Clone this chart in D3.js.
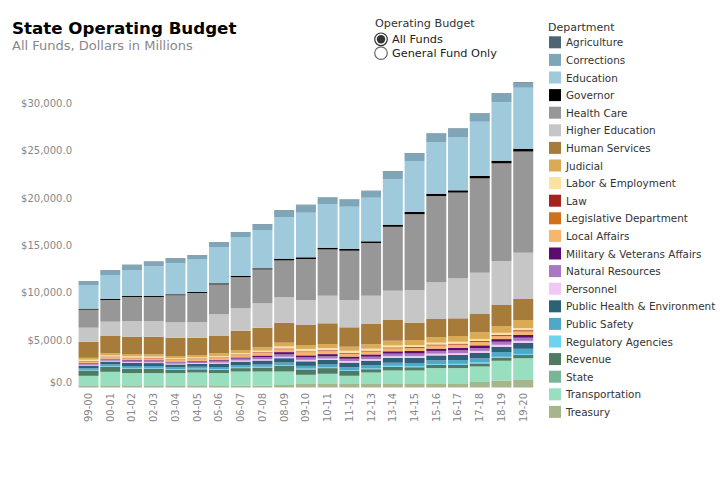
<!DOCTYPE html>
<html>
<head>
<meta charset="utf-8">
<script src="https://cdn.jsdelivr.net/npm/d3@7"></script>
<style>
  html, body { margin: 0; padding: 0; background: #fff; }
  svg { display: block; font-family: "DejaVu Sans", sans-serif; }
</style>
</head>
<body>
<svg id="chart" width="720" height="480"></svg>
<script>
// ---------------- DATA (millions of dollars) ----------------
const years = ["99-00","00-01","01-02","02-03","03-04","04-05","05-06","06-07","07-08","08-09","09-10",
               "10-11","11-12","12-13","13-14","14-15","15-16","16-17","17-18","18-19","19-20"];

const departments = ["Agriculture","Corrections","Education","Governor","Health Care","Higher Education",
  "Human Services","Judicial","Labor & Employment","Law","Legislative Department","Local Affairs",
  "Military & Veterans Affairs","Natural Resources","Personnel","Public Health & Environment",
  "Public Safety","Regulatory Agencies","Revenue","State","Transportation","Treasury"];

const agriculture      = [40,40,40,40,40,40,40,45,45,45,45,45,45,45,50,50,50,50,55,60,60];
const corrections      = [382,488,519,488,519,435,488,483,588,694,799,662,736,694,826,794,900,868,832,890,542];
const education        = [2502,2533,2745,3135,3272,3431,3832,4117,4043,4402,4708,4613,4465,4602,4792,5384,5426,5626,5732,6165,6439];
const governor         = [100,100,100,100,100,100,120,120,120,180,180,180,180,180,220,230,240,240,250,280,300];
const healthCare       = [1906,2296,2539,2539,2856,3067,3152,3290,3575,3895,4327,4887,5204,5562,6747,8004,9113,9049,9958,10308,10678];
const higherEducation  = [1478,1510,1657,1657,1626,1657,2291,2365,2576,2681,2639,2913,2882,2987,3093,3452,3874,4222,4360,4645,4887];
const humanServices    = [1700,1826,1826,1858,1932,1826,1826,2037,2069,2111,2111,2185,2048,2143,2185,1826,1932,1868,1932,2217,2217];
const judicial         = [200,220,240,240,230,240,290,320,350,390,410,420,430,460,500,540,560,600,700,720,850];
const laborEmployment  = [120,120,140,130,120,120,140,150,170,220,260,240,220,210,210,200,200,210,220,220,230];
const law              = [40,45,50,50,50,55,55,60,60,65,65,70,70,75,75,80,80,85,85,90,95];
const legislative      = [30,30,30,32,32,33,34,35,38,38,38,38,40,42,42,44,46,48,50,52,55];
const localAffairs     = [150,160,170,170,160,170,200,220,250,280,320,300,280,280,290,300,310,320,320,300,340];
const military         = [50,55,60,60,70,70,80,120,180,230,220,220,230,240,250,260,240,250,300,280,300];
const naturalResources = [150,160,170,160,150,155,180,200,220,260,250,240,240,250,260,280,290,300,290,320,330];
const personnel        = [75,80,90,85,80,85,110,120,130,150,160,160,170,170,175,180,185,190,200,210,220];
const publicHealth     = [285,300,320,315,300,310,360,380,410,450,480,480,490,500,520,540,520,540,580,560,620];
const publicSafety     = [180,190,200,195,190,200,220,230,250,280,290,290,300,310,330,350,380,400,430,500,540];
const regulatory       = [60,65,70,70,70,70,75,80,85,90,90,90,90,95,95,100,100,105,110,115,120];
const revenue          = [561,529,475,477,352,338,343,351,408,582,558,593,507,338,392,339,331,332,316,298,332];
const stateDept        = [20,20,22,22,22,22,24,25,25,26,26,26,26,28,28,28,30,30,30,30,32];
const transportation   = [1056,1478,1341,1341,1341,1404,1341,1457,1457,1404,950,982,844,1193,1404,1404,1657,1657,1615,2058,2270];
const treasury         = [158,158,158,158,158,158,158,211,211,264,369,443,369,369,369,369,369,369,580,739,792];

const yTicks = [0, 5000, 10000, 15000, 20000, 25000, 30000];

const colors = ["#4f6572","#7fa5b8","#9ecadc","#000000","#979797","#c6c6c6",
  "#a77c3b","#d9ab55","#fbe2a0","#a3241d","#d0701a","#f8b56c",
  "#5c0b6e","#a878c1","#f0c9f4","#2c6177","#4fa7c9","#6dd3ef",
  "#4e7b63","#79b697","#97dfbe","#a6b68c"];

const seriesValues = [agriculture, corrections, education, governor, healthCare, higherEducation,
  humanServices, judicial, laborEmployment, law, legislative, localAffairs, military,
  naturalResources, personnel, publicHealth, publicSafety, regulatory, revenue, stateDept,
  transportation, treasury];

// ---------------- BUILD TABLE ----------------
const table = years.map((y, i) => {
  const row = { year: y };
  departments.forEach((d, k) => { row[d] = seriesValues[k][i]; });
  return row;
});
const stackKeys = departments.slice().reverse(); // Treasury at bottom, Agriculture on top
const stacked = d3.stack().keys(stackKeys)(table);
const color = d3.scaleOrdinal().domain(departments).range(colors);

// ---------------- SCALES ----------------
const svg = d3.select("#chart");
const x = d3.scaleBand().domain(years).range([77.7, 534.1]).paddingInner(0.08).paddingOuter(0.04);
const y = d3.scaleLinear().domain([0, 30000]).range([387.5, 103.3]);

// ---------------- BARS ----------------
svg.append("g").selectAll("g").data(stacked).join("g")
  .attr("fill", d => color(d.key))
  .selectAll("rect").data(d => d).join("rect")
  .attr("x", d => x(d.data.year))
  .attr("width", x.bandwidth())
  .attr("y", d => y(d[1]))
  .attr("height", d => y(d[0]) - y(d[1]));

// ---------------- Y AXIS ----------------
const fmt = d3.format("$,.1f");
const yAxis = svg.append("g").attr("transform", "translate(72,0)")
  .call(d3.axisLeft(y).tickValues(yTicks).tickFormat(fmt).tickSize(0).tickPadding(0));
yAxis.select(".domain").remove();
yAxis.selectAll("text")
  .attr("fill", "#888").style("font-size", "10px").style("font-family", "DejaVu Sans, sans-serif")
  .attr("dy", d => d === 0 ? "-0.25em" : "0.32em");

// ---------------- X AXIS ----------------
const xAxis = svg.append("g").attr("transform", "translate(0,393)")
  .call(d3.axisBottom(x).tickSize(0).tickPadding(0));
xAxis.select(".domain").remove();
xAxis.selectAll("text")
  .attr("fill", "#888").style("font-size", "10px").style("font-family", "DejaVu Sans, sans-serif")
  .attr("text-anchor", "end")
  .attr("transform", "rotate(-90)")
  .attr("x", 0).attr("y", 0).attr("dy", "0.34em");

// ---------------- TITLES ----------------
svg.append("text").attr("x", 12).attr("y", 34)
  .style("font-size", "16.7px").style("font-weight", "bold").attr("fill", "#000")
  .text("State Operating Budget");
svg.append("text").attr("x", 12).attr("y", 50)
  .style("font-size", "13px").attr("fill", "#888")
  .text("All Funds, Dollars in Millions");

// ---------------- RADIO CONTROL ----------------
const radio = svg.append("g");
radio.append("text").attr("x", 375).attr("y", 26.5).style("font-size", "11.2px").attr("fill", "#333")
  .text("Operating Budget");
const radioOptions = ["All Funds", "General Fund Only"];
radioOptions.forEach((label, i) => {
  const cy = 39.3 + i * 13.8;
  radio.append("circle").attr("cx", 381).attr("cy", cy).attr("r", 6.3)
    .attr("fill", "#fff").attr("stroke", i === 0 ? "#333" : "#666").attr("stroke-width", 1.2);
  if (i === 0) radio.append("circle").attr("cx", 381).attr("cy", cy).attr("r", 4.2).attr("fill", "#333");
  radio.append("text").attr("x", 392).attr("y", cy + 3.9).style("font-size", "11.3px").attr("fill", "#222")
    .text(label);
});

// ---------------- LEGEND ----------------
const legend = svg.append("g");
legend.append("text").attr("x", 548).attr("y", 31).style("font-size", "11px").attr("fill", "#333")
  .text("Department");
const items = legend.selectAll("g.item").data(departments).join("g").attr("class", "item")
  .attr("transform", (d, i) => `translate(549,${36.3 + i * 17.6})`);
items.append("rect").attr("width", 12).attr("height", 12).attr("fill", d => color(d));
items.append("text").attr("x", 17).attr("y", 10.2).style("font-size", "10.4px").attr("fill", "#333")
  .text(d => d);
</script>
</body>
</html>
